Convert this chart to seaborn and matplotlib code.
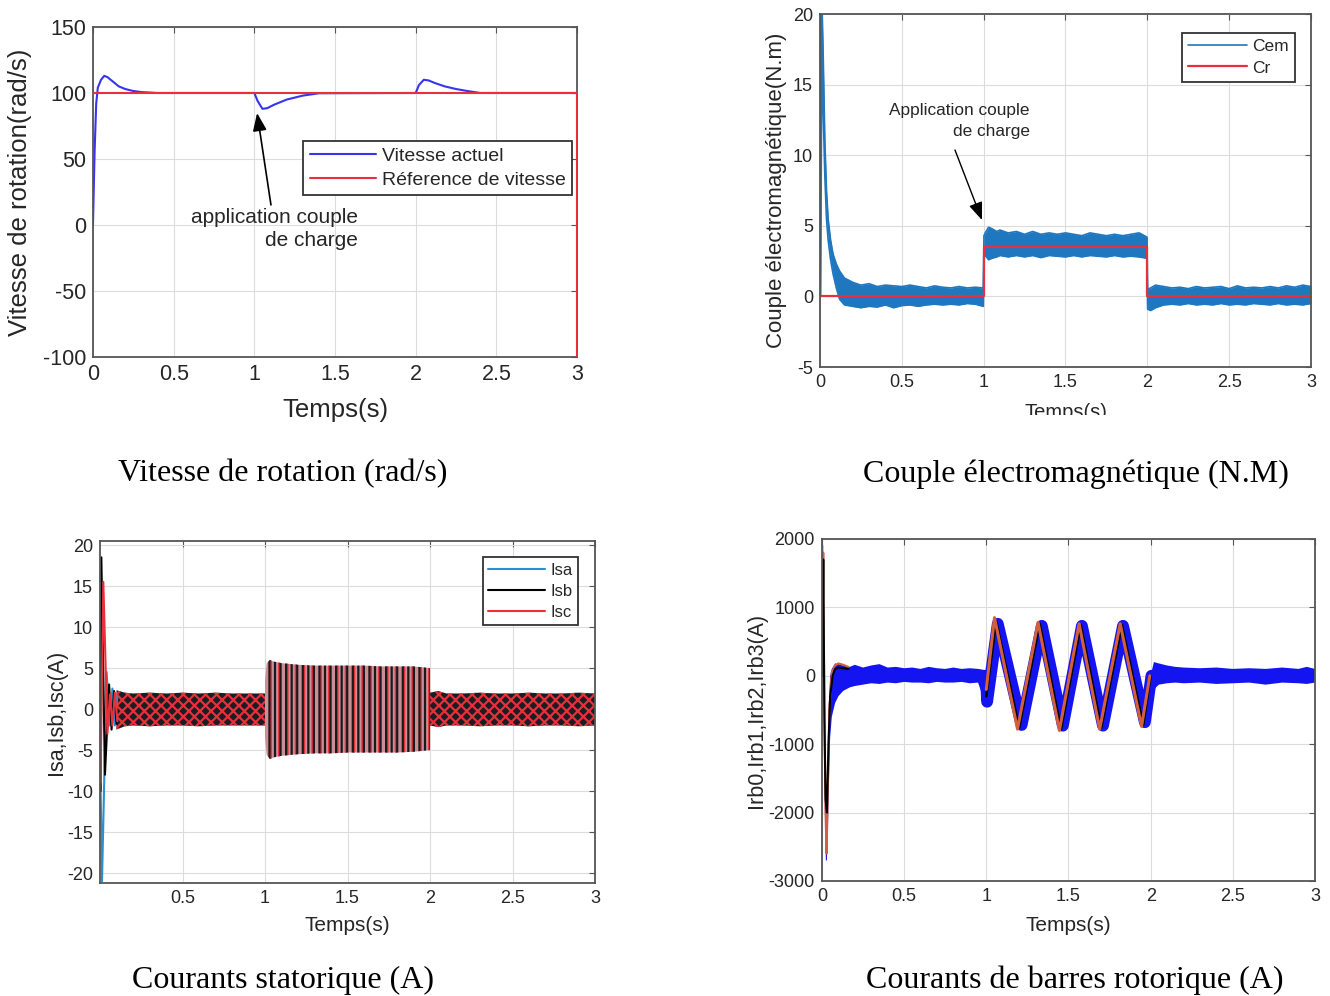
import numpy as np
import seaborn as sns
import matplotlib.pyplot as plt
from matplotlib.patches import Rectangle

nan = np.nan

# Vitesse de rotation
t_vit = [0.0, 0.01, 0.02, 0.03, 0.05, 0.07, 0.09, 0.12, 0.16, 0.2, 0.25, 0.3, 0.4,
         1.0, 1.02, 1.05, 1.08, 1.12, 1.2, 1.3, 1.4,
         2.0, 2.02, 2.05, 2.08, 2.12, 2.18, 2.25, 2.32, 2.4, 3.0]
vit_actuel = [0, 55, 92, 104, 110, 113, 112, 109, 105, 103, 101.5, 100.7, 100,
              100, 94, 88, 88.5, 91, 95, 98, 99.8,
              100, 106, 110, 109.5, 107.5, 105, 103, 101.5, 100, 100]
t_ref = [0.0, 2.997, 2.997]
vit_ref = [100, 100, -100]

# Couple electromagnetique (enveloppe du bruit)
t_cem = [0.0, 0.004, 0.012, 0.02, 0.03, 0.04, 0.05, 0.065, 0.08, 0.1,
         0.12, 0.15, 0.2, 0.25, 0.3, 0.35, 0.4, 0.45, 0.5, 0.55,
         0.6, 0.65, 0.7, 0.75, 0.8, 0.85, 0.9, 0.95, 0.998, 1.002,
         1.01, 1.03, 1.05, 1.08, 1.1, 1.15, 1.2, 1.25, 1.3, 1.35,
         1.4, 1.45, 1.5, 1.55, 1.6, 1.65, 1.7, 1.75, 1.8, 1.85,
         1.9, 1.95, 1.998, 2.002, 2.02, 2.05, 2.1, 2.15, 2.2, 2.25,
         2.3, 2.35, 2.4, 2.45, 2.5, 2.55, 2.6, 2.65, 2.7, 2.75,
         2.8, 2.85, 2.9, 2.95, 3.0]
cem_haut = [0, 21, 21, 17, 11, 7.5, 5.5, 4.0, 3.0, 2.3,
            1.8, 1.3, 1.0, 0.8, 0.9, 0.7, 0.8, 0.75, 0.7, 0.8,
            0.7, 0.6, 0.75, 0.65, 0.6, 0.7, 0.6, 0.65, 0.6, 4.3,
            4.5, 4.9, 4.8, 4.6, 4.7, 4.5, 4.6, 4.4, 4.6, 4.4,
            4.5, 4.4, 4.5, 4.4, 4.3, 4.5, 4.4, 4.3, 4.4, 4.3,
            4.4, 4.5, 4.2, 0.5, 0.6, 0.8, 0.7, 0.6, 0.65, 0.55,
            0.7, 0.6, 0.65, 0.7, 0.55, 0.75, 0.6, 0.65, 0.6, 0.7,
            0.6, 0.75, 0.65, 0.8, 0.7]
cem_bas = [0, 0, 18, 13, 8.5, 5.5, 4.0, 2.6, 1.6, 0.6,
           -0.2, -0.6, -0.7, -0.8, -0.7, -0.75, -0.6, -0.8, -0.65, -0.6,
           -0.7, -0.6, -0.55, -0.6, -0.55, -0.6, -0.5, -0.55, -0.7, 2.8,
           2.9, 2.6, 2.7, 2.8, 2.9, 2.8, 2.9, 2.8, 2.9, 2.75,
           2.9, 2.85, 2.8, 2.9, 2.8, 2.9, 2.85, 2.8, 2.9, 2.8,
           2.85, 2.8, 2.7, -0.9, -1.0, -0.8, -0.6, -0.55, -0.6, -0.5,
           -0.6, -0.55, -0.6, -0.5, -0.6, -0.55, -0.6, -0.5, -0.55, -0.6,
           -0.5, -0.6, -0.55, -0.6, -0.5]
t_cr = [0, 1, 1, 2, 2, 3]
cr = [0, 0, 3.5, 3.5, 0, 0]

# Courants statoriques : regime transitoire
t_isa = [0.003, 0.012, 0.04, 0.06, 0.075, 0.09, 0.105]
isa = [-9, -21, 4.5, -2, 2.5, -2, 1.5]
t_isb = [0.003, 0.008, 0.03, 0.055, 0.07, 0.085, 0.1]
isb = [-10, 18.5, -8, 3, -2.5, 2.2, -1.8]
t_isc = [0.003, 0.02, 0.045, 0.06, 0.075, 0.09, 0.105]
isc = [-9, 15.5, -3, 1.8, -2, 2, -1.5]
# enveloppes des oscillations
t_is_vide = [0.1, 0.15, 0.2, 0.3, 0.4, 0.5, 0.6, 0.7, 0.8, 0.9, 1.0, nan,
             2.0, 2.05, 2.1, 2.2, 2.3, 2.4, 2.5, 2.6, 2.7, 2.8, 2.9, 3.0]
is_vide_haut = [2.3, 2.0, 1.9, 2.0, 1.9, 2.0, 1.9, 2.0, 1.9, 1.9, 1.9, nan,
                2.0, 2.2, 1.9, 1.9, 2.0, 1.9, 1.9, 2.0, 1.9, 1.9, 2.0, 1.9]
is_vide_bas = [-2.5, -2.1, -2.0, -2.1, -2.0, -2.0, -2.1, -2.0, -2.0, -2.0, -2.0, nan,
               -2.0, -2.2, -2.0, -2.0, -2.1, -2.0, -2.0, -2.1, -2.0, -2.0, -2.1, -2.0]
t_is_charge = [1.0, 1.01, 1.03, 1.05, 1.1, 1.2, 1.3, 1.4, 1.5, 1.6, 1.7, 1.8, 1.9, 2.0]
is_charge_haut = [3.5, 5.6, 6.0, 5.8, 5.6, 5.4, 5.3, 5.3, 5.3, 5.3, 5.2, 5.2, 5.2, 5.0]
is_charge_bas = [-3.5, -5.6, -6.1, -5.9, -5.7, -5.5, -5.4, -5.4, -5.3, -5.3, -5.3, -5.3, -5.2, -5.0]

# Courants de barres rotoriques
t_rb = [0.0, 0.004, 0.008, 0.013, 0.018, 0.024, 0.03, 0.036, 0.042, 0.05,
        0.06, 0.08, 0.1, 0.13, 0.17, 0.2, 0.25, 0.3, 0.35, 0.4,
        0.45, 0.5, 0.55, 0.6, 0.65, 0.7, 0.75, 0.8, 0.85, 0.9,
        0.95, 1.0, nan, 2.0, 2.02, 2.05, 2.1, 2.15, 2.2, 2.3,
        2.4, 2.5, 2.6, 2.7, 2.8, 2.9, 2.95, 3.0]
rb_haut = [0, 1950, 1900, 200, -1000, -1800, -2200, -1200, -400, 0,
           100, 180, 170, 150, 130, 160, 120, 150, 170, 120,
           130, 110, 120, 100, 130, 110, 100, 120, 100, 110,
           100, 80, nan, 0, 200, 180, 150, 130, 120, 110,
           120, 100, 110, 100, 120, 100, 130, 100]
rb_bas = [0, 1700, 800, -800, -2000, -2700, -2700, -2300, -1600, -900,
          -600, -400, -300, -220, -170, -150, -130, -110, -120, -100,
          -110, -90, -100, -100, -110, -90, -100, -100, -90, -110,
          -100, -450, nan, -650, -200, -130, -110, -100, -110, -100,
          -120, -110, -100, -130, -100, -110, -120, -100]
t_irb0 = [0.998, 1.005, 1.07, 1.215, 1.338, 1.466, 1.582, 1.71, 1.832, 1.965, 2.005]
irb0 = [0, -380, 760, -720, 730, -730, 730, -730, 730, -680, 0]
t_irb1 = [0.003, 0.008, 0.015, 0.022, 0.03, 0.04, 0.05, 0.065, 0.08, 0.1, 0.13, 0.16, nan,
          1.0, 1.06, 1.2, 1.325, 1.455, 1.575, 1.7, 1.825, 1.955, 2.0]
irb1 = [0, 1700, -600, -1800, -2000, -1000, -300, 0, 100, 120, 110, 100, nan,
        -300, 800, -760, 760, -780, 740, -760, 740, -720, 0]
t_irb2 = [0.003, 0.008, 0.015, 0.022, 0.028, 0.035, 0.045, 0.06, 0.08, 0.1, 0.13, 0.16, nan,
          1.0, 1.05, 1.19, 1.315, 1.445, 1.565, 1.69, 1.815, 1.945, 1.995]
irb2 = [0, 1800, -500, -2000, -2600, -1800, -500, 50, 150, 180, 160, 130, nan,
        -200, 850, -780, 780, -800, 760, -780, 760, -740, 0]

x_ticks = [0, 0.5, 1, 1.5, 2, 2.5, 3]
x_labels = ["0", "0.5", "1", "1.5", "2", "2.5", "3"]

BLEU = "#3535f0"
ROUGE = "#e8303a"
BLEU_CEM = "#1f77c0"
BLEU_ISA = "#2a8fd0"
BLEU_RB = "#1414f0"
ORANGE_RB = "#d2603f"
TXT = "#262626"

sns.set_theme(style="whitegrid")
plt.rcParams["font.family"] = ["Liberation Sans", "DejaVu Sans"]
plt.rcParams["axes.unicode_minus"] = False
plt.rcParams["hatch.linewidth"] = 1.6
plt.rcParams["axes.edgecolor"] = "#555555"
plt.rcParams["grid.color"] = "#dcdcdc"


def habiller(ax, taille):
    ax.set_facecolor("white")
    ax.grid(True, color="#dcdcdc", lw=0.8)
    for s in ax.spines.values():
        s.set_color("#555555")
        s.set_linewidth(1.3)
    ax.tick_params(direction="in", top=True, right=True, length=4, width=0.8,
                   color="#555555", labelsize=taille, labelcolor=TXT, pad=5)


def legende(ax, anchor, taille, hl, esp=0.25):
    leg = ax.legend(loc="upper right", bbox_to_anchor=anchor, borderaxespad=0,
                    fontsize=taille, handlelength=hl, frameon=True, fancybox=False,
                    framealpha=1, edgecolor="#333333", borderpad=0.35,
                    labelspacing=esp, handletextpad=0.3)
    leg.get_frame().set_linewidth(1.3)
    for t in leg.get_texts():
        t.set_color(TXT)


fig = plt.figure(figsize=(13.3, 9.96), dpi=100)

# --- Vitesse
ax1 = fig.add_axes([0.0699, 0.6416, 0.364, 0.3313])
sns.lineplot(x=t_vit, y=vit_actuel, ax=ax1, color=BLEU, lw=1.5, estimator=None,
             sort=False, label="Vitesse actuel")
sns.lineplot(x=t_ref, y=vit_ref, ax=ax1, color=ROUGE, lw=1.5, estimator=None,
             sort=False, label="Réference de vitesse", zorder=3)
ax1.set_xlim(0, 3)
ax1.set_ylim(-100, 150)
ax1.set_yticks([-100, -50, 0, 50, 100, 150])
ax1.set_xticks(x_ticks, x_labels)
habiller(ax1, 15.5)
ax1.set_xlabel("Temps(s)", fontsize=18.5, color=TXT)
ax1.set_ylabel("Vitesse de rotation(rad/s)", fontsize=18.5, color=TXT)
ax1.xaxis.set_label_coords(0.5, -0.16)
ax1.xaxis.label.set_va("center")
ax1.yaxis.set_label_coords(-0.151, 0.5)
ax1.yaxis.label.set_va("center")
legende(ax1, (0.99, 0.655), 14, 3.4, 0.3)
ax1.annotate("", xy=(1.017, 84.8), xytext=(1.103, 15.2),
             arrowprops=dict(arrowstyle="-|>,head_length=0.9,head_width=0.35",
                             color="black", lw=1.2, shrinkA=0, shrinkB=0))
ax1.text(1.643, -3, "application couple\nde charge", ha="right", va="center",
         multialignment="right", fontsize=15, color=TXT, linespacing=1.3)

# --- Couple
ax2 = fig.add_axes([0.6165, 0.6315, 0.3692, 0.3544])
ax2.fill_between(t_cem, cem_bas, cem_haut, color=BLEU_CEM, lw=0)
sns.lineplot(x=t_cem, y=cem_haut, ax=ax2, color=BLEU_CEM, lw=1.2, estimator=None,
             sort=False, label="Cem")
sns.lineplot(x=t_cem, y=cem_bas, ax=ax2, color=BLEU_CEM, lw=1.2, estimator=None,
             sort=False)
sns.lineplot(x=t_cr, y=cr, ax=ax2, color=ROUGE, lw=1.6, estimator=None,
             sort=False, label="Cr")
ax2.set_xlim(0, 3)
ax2.set_ylim(-5, 20)
ax2.set_yticks([-5, 0, 5, 10, 15, 20])
ax2.set_xticks(x_ticks, x_labels)
habiller(ax2, 13)
ax2.set_xlabel("Temps(s)", fontsize=14.5, color=TXT)
ax2.set_ylabel("Couple électromagnétique(N.m)", fontsize=16, color=TXT)
ax2.xaxis.set_label_coords(0.5, -0.128)
ax2.xaxis.label.set_va("center")
ax2.yaxis.set_label_coords(-0.0876, 0.5)
ax2.yaxis.label.set_va("center")
legende(ax2, (0.967, 0.946), 12.5, 3.4, 0.35)
ax2.annotate("", xy=(0.99, 5.41), xytext=(0.825, 10.37),
             arrowprops=dict(arrowstyle="-|>,head_length=0.9,head_width=0.35",
                             color="black", lw=1.0, shrinkA=0, shrinkB=0))
ax2.text(1.283, 12.42, "Application couple\nde charge", ha="right", va="center",
         multialignment="right", fontsize=12.4, color=TXT, linespacing=1.5)

# --- Courants statoriques
ax3 = fig.add_axes([0.0752, 0.1135, 0.3722, 0.3434])
ax3.fill_between(t_is_vide, is_vide_bas, is_vide_haut, facecolor="#1c1c24",
                 edgecolor=ROUGE, hatch="xxx", lw=0)
ax3.fill_between(t_is_charge, is_charge_bas, is_charge_haut, facecolor="#c98e98",
                 edgecolor=ROUGE, hatch="||", lw=0)
ax3.fill_between(t_is_charge, is_charge_bas, is_charge_haut, facecolor="none",
                 edgecolor="#1a1a1a", hatch="|||", lw=0)
sns.lineplot(x=t_isa, y=isa, ax=ax3, color=BLEU_ISA, lw=1.5, estimator=None,
             sort=False, label="Isa")
sns.lineplot(x=t_isb, y=isb, ax=ax3, color="black", lw=1.5, estimator=None,
             sort=False, label="Isb")
sns.lineplot(x=t_isc, y=isc, ax=ax3, color=ROUGE, lw=1.5, estimator=None,
             sort=False, label="Isc")
ax3.set_xlim(0, 3)
ax3.set_ylim(-21.2, 20.5)
ax3.set_yticks([-20, -15, -10, -5, 0, 5, 10, 15, 20])
ax3.set_xticks(x_ticks[1:], x_labels[1:])
habiller(ax3, 13)
ax3.set_xlabel("Temps(s)", fontsize=15, color=TXT)
ax3.set_ylabel("Isa,Isb,Isc(A)", fontsize=15.5, color=TXT)
ax3.xaxis.set_label_coords(0.5, -0.123)
ax3.xaxis.label.set_va("center")
ax3.yaxis.set_label_coords(-0.087, 0.5)
ax3.yaxis.label.set_va("center")
legende(ax3, (0.966, 0.953), 12, 3.4, 0.35)

# --- Courants de barres rotoriques
ax4 = fig.add_axes([0.618, 0.1155, 0.3707, 0.3434])
sns.lineplot(x=t_irb2[:12], y=irb2[:12], ax=ax4, color=ORANGE_RB, lw=1.5,
             estimator=None, sort=False)
sns.lineplot(x=t_irb1[:12], y=irb1[:12], ax=ax4, color="black", lw=1.5,
             estimator=None, sort=False)
ax4.fill_between(t_rb, rb_bas, rb_haut, color=BLEU_RB, lw=0)
sns.lineplot(x=t_irb0, y=irb0, ax=ax4, color=BLEU_RB, lw=8.5, estimator=None,
             sort=False)
sns.lineplot(x=t_irb1[13:], y=irb1[13:], ax=ax4, color="black", lw=1.8,
             estimator=None, sort=False)
sns.lineplot(x=t_irb2[13:], y=irb2[13:], ax=ax4, color=ORANGE_RB, lw=2.2,
             estimator=None, sort=False)
ax4.set_xlim(0, 3)
ax4.set_ylim(-3000, 2000)
ax4.set_yticks([-3000, -2000, -1000, 0, 1000, 2000])
ax4.set_xticks(x_ticks, x_labels)
habiller(ax4, 13)
ax4.set_xlabel("Temps(s)", fontsize=15, color=TXT)
ax4.set_ylabel("Irb0,Irb1,Irb2,Irb3(A)", fontsize=15.5, color=TXT)
ax4.xaxis.set_label_coords(0.5, -0.129)
ax4.xaxis.label.set_va("center")
ax4.yaxis.set_label_coords(-0.132, 0.5)
ax4.yaxis.label.set_va("center")

# titre de B coupe en bas comme dans l'original
fig.add_artist(Rectangle((0.6, 0.553), 0.4, 0.0302, transform=fig.transFigure,
                         facecolor="white", edgecolor="none", zorder=10))

serif = ["Liberation Serif", "DejaVu Serif"]
fig.text(283 / 1330, 1 - 474 / 996, "Vitesse de rotation (rad/s)", ha="center",
         va="center", fontsize=23, family=serif, color="black")
fig.text(1076 / 1330, 1 - 474 / 996, "Couple électromagnétique (N.M)", ha="center",
         va="center", fontsize=23, family=serif, color="black")
fig.text(283 / 1330, 1 - 980 / 996, "Courants statorique (A)", ha="center",
         va="center", fontsize=23, family=serif, color="black")
fig.text(1075 / 1330, 1 - 980 / 996, "Courants de barres rotorique (A)", ha="center",
         va="center", fontsize=23, family=serif, color="black")

fig.savefig("out.png", dpi=100, facecolor="white")
